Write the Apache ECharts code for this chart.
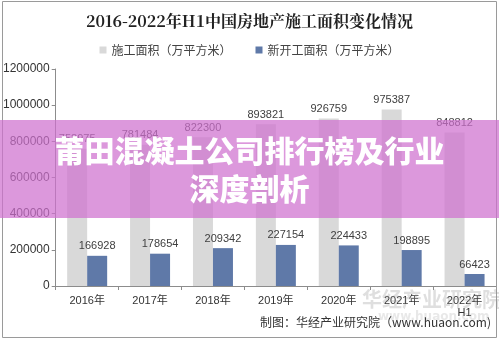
<!DOCTYPE html>
<html>
<head>
<meta charset="utf-8">
<script src="https://cdn.jsdelivr.net/npm/echarts@6/dist/echarts.min.js"></script>
<style>
  html, body { margin: 0; padding: 0; background: #fff; }
  #chart { width: 499px; height: 340px; }
</style>
</head>
<body>
<div id="chart"></div>
<script>
// Construction area vs. newly started area (10k m²)
const categories = ['2016年', '2017年', '2018年', '2019年', '2020年', '2021年', '2022年\nH1'];
const underConstruction = [758975, 781484, 822300, 893821, 926759, 975387, 848812];
const newlyStarted = [166928, 178654, 209342, 227154, 224433, 198895, 66423];
const yTicks = [0, 200000, 400000, 600000, 800000, 1000000, 1200000];
const seriesNames = ['施工面积（万平方米）', '新开工面积（万平方米）'];

const chart = echarts.init(document.getElementById('chart'), null, { renderer: 'canvas' });

const labelStyle = {
  show: true,
  position: 'top',
  distance: 4,
  color: '#404040',
  fontSize: 11,
  fontFamily: 'Arial, "Liberation Sans", sans-serif'
};

chart.setOption({
  backgroundColor: '#ffffff',
  animation: false,
  title: {
    text: '2016-2022年H1中国房地产施工面积变化情况',
    left: 'center',
    top: 8,
    textStyle: {
      fontSize: 16,
      fontWeight: 'bold',
      color: '#222',
      fontFamily: '"Noto Serif CJK SC", "Noto Sans CJK SC", serif'
    }
  },
  legend: {
    top: 39,
    left: 'center',
    itemWidth: 7,
    itemHeight: 7,
    itemGap: 24,
    icon: 'rect',
    textStyle: { fontSize: 12, color: '#444', fontFamily: '"Noto Sans CJK SC", sans-serif' },
    data: seriesNames
  },
  grid: { left: 53, right: 3, top: 69, bottom: 54, containLabel: false },
  xAxis: {
    type: 'category',
    data: categories,
    axisLine: { lineStyle: { color: '#8c8c8c' } },
    axisTick: { show: true, alignWithLabel: false, length: 4, lineStyle: { color: '#8c8c8c' } },
    axisLabel: {
      color: '#333',
      fontSize: 11,
      margin: 9,
      lineHeight: 12,
      fontFamily: 'Arial, "Noto Sans CJK SC", sans-serif'
    }
  },
  yAxis: {
    type: 'value',
    min: yTicks[0],
    max: yTicks[yTicks.length - 1],
    interval: 200000,
    axisLine: { show: true, lineStyle: { color: '#8c8c8c' } },
    axisTick: { show: true, length: 4, lineStyle: { color: '#8c8c8c' } },
    splitLine: { show: false },
    axisLabel: {
      color: '#333',
      fontSize: 12,
      margin: 6,
      formatter: (v) => String(v),
      fontFamily: 'Arial, "Liberation Sans", sans-serif'
    }
  },
  series: [
    {
      name: seriesNames[0],
      type: 'bar',
      data: underConstruction,
      barWidth: 20,
      barGap: '0%',
      itemStyle: { color: '#d9d9d9' },
      label: labelStyle
    },
    {
      name: seriesNames[1],
      type: 'bar',
      data: newlyStarted,
      barWidth: 20,
      barGap: '0%',
      itemStyle: { color: '#5f79a8' },
      label: labelStyle
    }
  ],
  graphic: [
    // outer frame
    {
      type: 'rect',
      shape: { x: 2.5, y: 1.5, width: 494, height: 336 },
      style: { fill: 'none', stroke: '#9a9a9a', lineWidth: 1 },
      z: 10
    },
    // faint site watermark
    {
      type: 'text',
      left: 362,
      top: 289,
      style: {
        text: '华经产业研究院',
        fill: 'rgba(150,150,150,0.3)',
        font: 'bold 20px "Noto Sans CJK SC", sans-serif'
      },
      z: 20
    },
    {
      type: 'text',
      left: 378,
      top: 311,
      style: {
        text: 'www.huaon.com',
        fill: 'rgba(150,150,150,0.22)',
        font: 'bold 12px "DejaVu Sans", sans-serif',
        letterSpacing: 3
      },
      z: 20
    },
    // source note
    {
      type: 'text',
      right: 8,
      top: 316,
      style: {
        text: '制图：华经产业研究院（www.huaon.com)',
        fill: '#333',
        font: '12px "Noto Sans CJK SC", sans-serif'
      },
      z: 20
    },
    // overlay banner
    {
      type: 'rect',
      shape: { x: 0, y: 120, width: 499, height: 98 },
      style: { fill: 'rgba(206,112,206,0.72)' },
      z: 30
    },
    {
      type: 'text',
      left: 'center',
      top: 136,
      style: {
        text: '莆田混凝土公司排行榜及行业',
        fill: '#ffffff',
        font: '900 30px "Noto Sans CJK SC", sans-serif'
      },
      z: 31
    },
    {
      type: 'text',
      left: 'center',
      top: 174,
      style: {
        text: '深度剖析',
        fill: '#ffffff',
        font: '900 30px "Noto Sans CJK SC", sans-serif'
      },
      z: 31
    }
  ]
});
</script>
</body>
</html>
